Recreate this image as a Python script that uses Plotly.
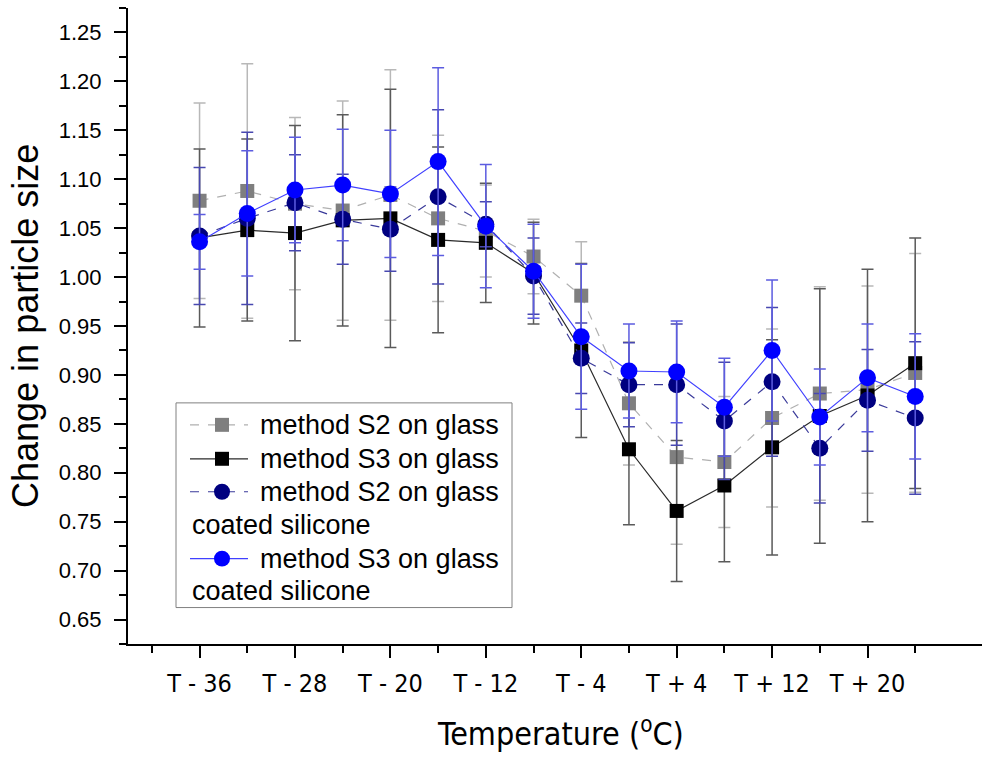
import plotly.graph_objects as go

temps = [-36, -32, -28, -24, -20, -16, -12, -8, -4, 0, 4, 8, 12, 16, 20, 24]
tick_vals = [-36, -28, -20, -12, -4, 4, 12, 20]
tick_text = ["T - 36", "T - 28", "T - 20", "T - 12", "T - 4", "T + 4", "T + 12", "T + 20"]
unlabeled_major = [28]
minor_vals = [-40, -32, -24, -16, -8, 0, 8, 16, 24]

s2_glass = [1.078, 1.088, 1.075, 1.068, 1.084, 1.060, 1.047, 1.021, 0.981, 0.871, 0.816, 0.811, 0.856, 0.881, 0.885, 0.902]
s2_glass_err = [0.100, 0.130, 0.088, 0.112, 0.128, 0.085, 0.047, 0.038, 0.055, 0.063, 0.089, 0.067, 0.091, 0.109, 0.106, 0.122]

s3_glass = [1.040, 1.048, 1.045, 1.058, 1.060, 1.038, 1.035, 1.004, 0.925, 0.824, 0.761, 0.787, 0.826, 0.858, 0.879, 0.912]
s3_glass_err = [0.091, 0.093, 0.110, 0.108, 0.132, 0.095, 0.061, 0.052, 0.089, 0.077, 0.072, 0.078, 0.110, 0.130, 0.129, 0.128]

s2_sil = [1.042, 1.060, 1.076, 1.059, 1.049, 1.082, 1.054, 1.001, 0.917, 0.890, 0.890, 0.853, 0.893, 0.825, 0.874, 0.856]
s2_sil_err = [0.070, 0.088, 0.049, 0.046, 0.043, 0.089, 0.023, 0.039, 0.036, 0.043, 0.062, 0.060, 0.076, 0.056, 0.052, 0.078]

s3_sil = [1.036, 1.065, 1.089, 1.094, 1.085, 1.118, 1.052, 1.006, 0.939, 0.904, 0.903, 0.867, 0.925, 0.857, 0.897, 0.878]
s3_sil_err = [0.028, 0.064, 0.054, 0.057, 0.065, 0.096, 0.063, 0.048, 0.074, 0.048, 0.052, 0.050, 0.072, 0.049, 0.055, 0.064]

names = ["method S2 on glass", "method S3 on glass",
         "method S2 on glass", "method S3 on glass"]
name_suffix = ["", "", "coated silicone", "coated silicone"]

FONT = "Arial, Liberation Sans, sans-serif"
NARROW = "Liberation Sans Narrow, Arial Narrow, DejaVu Sans Condensed, sans-serif"

# layout geometry (pixels)
W, H = 982, 758
ML, MR, MT, MB = 128, 0, 7.5, 113.5
PW, PH = W - ML - MR, H - MT - MB
X_RANGE = [-42, 29.6]


def px(xp):
    return (xp - ML) / PW


def py(yp):
    return (H - MB - yp) / PH


styles = [
    dict(sym="square", size=14, mcol="#7f7f7f", lcol="#b0b0b0", dash="dash", ecol="#b8b8b8"),
    dict(sym="square", size=14, mcol="#000000", lcol="#2a2a2a", dash="solid", ecol="#5a5a5a"),
    dict(sym="circle", size=17, mcol="#000080", lcol="#3a3a9a", dash="dash", ecol="#4848b0"),
    dict(sym="circle", size=17, mcol="#0000ff", lcol="#4040ff", dash="solid", ecol="#5c5ce0"),
]
values = [s2_glass, s3_glass, s2_sil, s3_sil]
errors = [s2_glass_err, s3_glass_err, s2_sil_err, s3_sil_err]

fig = go.Figure()
for vals, errs, st, name in zip(values, errors, styles, names):
    fig.add_trace(go.Scatter(
        x=temps, y=vals, name=name, mode="lines+markers", showlegend=False,
        marker=dict(symbol=st["sym"], size=st["size"], color=st["mcol"], line=dict(width=0)),
        line=dict(color=st["lcol"], width=1.2, dash=st["dash"]),
        error_y=dict(type="data", array=errs, visible=True, color=st["ecol"],
                     thickness=1.5, width=6),
    ))

# ---- hand-built legend box (matches the reference's wrapped entries) ----
shapes = [dict(type="rect", xref="paper", yref="paper",
               x0=px(176), x1=px(512), y0=py(403), y1=py(608),
               line=dict(color="#808080", width=1), fillcolor="white", layer="above")]
annotations = []
row_y = [425, 459, 492, 559]
wrap_y = [None, None, 525, 591]
for st, name, suf, ry, wy in zip(styles, names, name_suffix, row_y, wrap_y):
    shapes.append(dict(type="line", xref="paper", yref="paper",
                       x0=px(190), x1=px(248), y0=py(ry), y1=py(ry),
                       line=dict(color=st["lcol"], width=1.2, dash=st["dash"]), layer="above"))
    half = 7 if st["sym"] == "square" else 8
    shapes.append(dict(type="rect" if st["sym"] == "square" else "circle",
                       xref="paper", yref="paper",
                       x0=px(222 - half), x1=px(222 + half),
                       y0=py(ry + half), y1=py(ry - half),
                       line=dict(width=0), fillcolor=st["mcol"], layer="above"))
    annotations.append(dict(text=name, xref="paper", yref="paper", x=px(258), y=py(ry),
                            xanchor="left", yanchor="middle", showarrow=False,
                            font=dict(family=FONT, size=27, color="black")))
    if suf:
        annotations.append(dict(text=suf, xref="paper", yref="paper", x=px(190), y=py(wy),
                                xanchor="left", yanchor="middle", showarrow=False,
                                font=dict(family=FONT, size=27, color="black")))

annotations += [
    dict(text="Change in particle size", xref="paper", yref="paper",
         x=px(25), y=py(326), textangle=-90,
         showarrow=False, xanchor="center", yanchor="middle",
         font=dict(family=FONT, size=36, color="black")),
    dict(text="Temperature (<sup>o</sup>C)", xref="paper", yref="paper",
         x=px(560), y=py(733),
         showarrow=False, xanchor="center", yanchor="middle",
         font=dict(family=NARROW, size=32, color="black")),
]

fig.update_layout(
    width=W, height=H,
    margin=dict(l=ML, r=MR, t=MT, b=MB, autoexpand=False),
    paper_bgcolor="white", plot_bgcolor="white",
    font=dict(family=FONT, color="black"),
    showlegend=False,
    shapes=shapes,
    annotations=annotations,
    xaxis=dict(
        range=X_RANGE, showline=True, linewidth=2, linecolor="black",
        ticks="outside", ticklen=12, tickwidth=2, tickcolor="black",
        tickmode="array", tickvals=tick_vals, ticktext=tick_text,
        tickfont=dict(family=NARROW, size=25),
        ticklabelstandoff=4,
        minor=dict(tickmode="array", tickvals=minor_vals, ticks="outside",
                   ticklen=7, tickwidth=2, tickcolor="black", showgrid=False),
        showgrid=False, zeroline=False, automargin=False,
    ),
    # second x axis only to draw the unlabeled major tick at the right end
    xaxis2=dict(
        overlaying="x", anchor="y", side="bottom", range=X_RANGE,
        showline=False, ticks="outside", ticklen=12, tickwidth=2, tickcolor="black",
        tickmode="array", tickvals=unlabeled_major, showticklabels=False,
        showgrid=False, zeroline=False, automargin=False,
    ),
    yaxis=dict(
        range=[0.625, 1.275], showline=True, linewidth=2, linecolor="black",
        ticks="outside", ticklen=12, tickwidth=2, tickcolor="black",
        tick0=0.65, dtick=0.05, tickformat=".2f",
        tickfont=dict(family=FONT, size=22),
        ticklabelstandoff=8,
        minor=dict(dtick=0.025, tick0=0.625, ticks="outside", ticklen=7,
                   tickwidth=2, tickcolor="black", showgrid=False),
        showgrid=False, zeroline=False, automargin=False,
    ),
)

fig.write_html("out.html", config={"displayModeBar": False},
               post_script="document.body.style.margin='0px';")
